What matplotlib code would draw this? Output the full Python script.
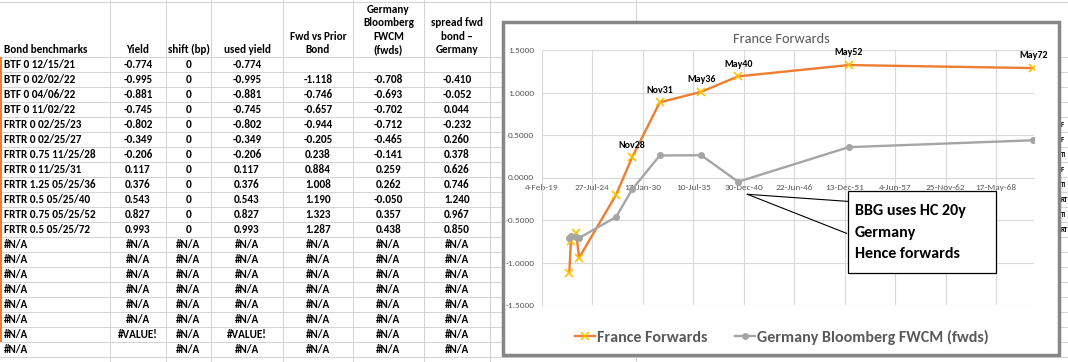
import matplotlib
matplotlib.use("Agg")
import matplotlib.pyplot as plt
import matplotlib.dates as mdates
from matplotlib.patches import Rectangle
from datetime import datetime, timedelta

plt.rcParams['font.family'] = ['Carlito', 'Lato', 'DejaVu Sans']

# ---------------- data ----------------
bonds = ["BTF 0 12/15/21", "BTF 0 02/02/22", "BTF 0 04/06/22", "BTF 0 11/02/22",
         "FRTR 0 02/25/23", "FRTR 0 02/25/27", "FRTR 0.75 11/25/28", "FRTR 0 11/25/31",
         "FRTR 1.25 05/25/36", "FRTR 0.5 05/25/40", "FRTR 0.75 05/25/52", "FRTR 0.5 05/25/72"]
maturities = ["2021-12-15", "2022-02-02", "2022-04-06", "2022-11-02", "2023-02-25",
              "2027-02-25", "2028-11-25", "2031-11-25", "2036-05-25", "2040-05-25",
              "2052-05-25", "2072-05-25"]
yields = [-0.774, -0.995, -0.881, -0.745, -0.802, -0.349, -0.206, 0.117, 0.376, 0.543, 0.827, 0.993]
shift_bp = [0, 0, 0, 0, 0, 0, 0, 0, 0, 0, 0, 0]
used_yield = [-0.774, -0.995, -0.881, -0.745, -0.802, -0.349, -0.206, 0.117, 0.376, 0.543, 0.827, 0.993]
fwd_vs_prior = [None, -1.118, -0.746, -0.657, -0.944, -0.205, 0.238, 0.884, 1.008, 1.190, 1.323, 1.287]
germany_fwcm = [None, -0.708, -0.693, -0.702, -0.712, -0.465, -0.141, 0.259, 0.262, -0.050, 0.357, 0.438]
spread_fwd = [None, -0.410, -0.052, 0.044, -0.232, 0.260, 0.378, 0.626, 0.746, 1.240, 0.967, 0.850]
point_labels = ["", "", "", "", "", "", "Nov28", "Nov31", "May36", "May40", "May52", "May72"]

headers = ["Bond benchmarks", "Yield", "shift (bp)", "used yield", "Fwd vs Prior\nBond",
           "Germany\nBloomberg\nFWCM\n(fwds)", "spread fwd\nbond \u2013\nGermany"]
error_rows = [
    ["#N/A", "#N/A", "#N/A", "#N/A", "#N/A", "#N/A", "#N/A"],
    ["#N/A", "#N/A", "#N/A", "#N/A", "#N/A", "#N/A", "#N/A"],
    ["#N/A", "#N/A", "#N/A", "#N/A", "#N/A", "#N/A", "#N/A"],
    ["#N/A", "#N/A", "#N/A", "#N/A", "#N/A", "#N/A", "#N/A"],
    ["#N/A", "#N/A", "#N/A", "#N/A", "#N/A", "#N/A", "#N/A"],
    ["#N/A", "#N/A", "#N/A", "#N/A", "#N/A", "#N/A", "#N/A"],
    ["#N/A", "#VALUE!", "#N/A", "#VALUE!", "#N/A", "#N/A", "#N/A"],
    ["#N/A", "", "#N/A", "#N/A", "#N/A", "#N/A", "#N/A"],
]
right_fragments = ["F", "F", "TI", "F", "TI", "RT", "TI", "RT"]

series_names = ["France Forwards", "Germany Bloomberg FWCM (fwds)"]
chart_title = "France Forwards"
callout_lines = ["BBG uses HC 20y", "Germany", "Hence forwards"]

x_min_serial, x_max_serial, x_step = 43500, 63000, 2000
y_ticks = [-1.5, -1.0, -0.5, 0.0, 0.5, 1.0, 1.5]

# ---------------- figure ----------------
W, H = 1068, 362
fig = plt.figure(figsize=(W / 100, H / 100), dpi=100)
bg = fig.add_axes([0, 0, 1, 1], zorder=0)
bg.set_xlim(0, W)
bg.set_ylim(H, 0)
bg.axis('off')

GRID = '#D4D4D4'
TXT = dict(fontsize=8.0, fontweight='bold', color='black')
col_edges = [0, 110, 166, 211, 283, 353, 424, 490]
row_top, row_h = 57, 15

for x in col_edges[1:] + [635.7]:
    bg.plot([x, x], [0, H], color=GRID, lw=0.75, zorder=1)
for y in [1.5] + [row_top + row_h * i for i in range(21)]:
    bg.plot([0, W], [y, y], color=GRID, lw=0.75, zorder=1)

# orange range highlight on the left
bg.add_patch(Rectangle((0, 57), 2.2, 285, color='#ED7D31', lw=0, zorder=2))

def cell_x(c):
    if c == 0:
        return 4, 'left'
    return (col_edges[c] + col_edges[c + 1]) / 2, 'center'

# headers
for c, h in enumerate(headers):
    x, ha = cell_x(c)
    lines = h.split("\n")
    for k, line in enumerate(reversed(lines)):
        bg.text(x, 49.3 - 13.2 * k, line, ha=ha, va='center', zorder=3, **TXT)

def fmt(v, dec=3):
    if v is None:
        return ""
    return f"{v:.{dec}f}"

rows = []
for i in range(len(bonds)):
    rows.append([bonds[i], fmt(yields[i]), f"{shift_bp[i]:d}", fmt(used_yield[i]),
                 fmt(fwd_vs_prior[i]), fmt(germany_fwcm[i]), fmt(spread_fwd[i])])
rows += error_rows

for r, row in enumerate(rows):
    yc = row_top + row_h * r + 7.6
    for c, val in enumerate(row):
        x, ha = cell_x(c)
        bg.text(x, yc, val, ha=ha, va='center', zorder=3, **TXT)

# fragments on right edge (cell text partly covered by the chart)
for k, frag in enumerate(right_fragments):
    bg.text(1060.8, row_top + row_h * (4 + k) + 7.6, frag, ha='left', va='center',
            zorder=3, fontsize=5.0, fontweight='bold', color='black')

# chart frame
fx0, fy0, fx1, fy1 = 503.3, 21.7, 1059.3, 355
bg.add_patch(Rectangle((fx0, fy0), fx1 - fx0, fy1 - fy0, facecolor='white',
                       edgecolor='#868686', lw=2.5, zorder=5))
bg.text((fx0 + fx1) / 2, 39, chart_title, ha='center', va='center', fontsize=10.3,
        color='#595959', zorder=6)

# ---------------- chart ----------------
def xl(serial):
    return mdates.date2num(datetime(1899, 12, 30) + timedelta(days=serial))

px_l, px_r, px_t, px_b = 541.7, 1034, 50, 305
ax = fig.add_axes([px_l / W, 1 - px_b / H, (px_r - px_l) / W, (px_b - px_t) / H], zorder=2)
ax.set_facecolor('none')

dates = [mdates.date2num(datetime.strptime(d, "%Y-%m-%d")) for d in maturities]
fr_x = [d for d, v in zip(dates, fwd_vs_prior) if v is not None]
fr_y = [v for v in fwd_vs_prior if v is not None]
de_x = [d for d, v in zip(dates, germany_fwcm) if v is not None]
de_y = [v for v in germany_fwcm if v is not None]

l1, = ax.plot(fr_x, fr_y, color='#ED7D31', lw=1.7, marker='x', ms=5.5,
              mec='#FFC000', mew=1.2, zorder=3, solid_joinstyle='round')
l2, = ax.plot(de_x, de_y, color='#A5A5A5', lw=1.7, marker='o', ms=4,
              mec='#A5A5A5', mfc='#A5A5A5', zorder=4, solid_joinstyle='round')

for d, v, lab in zip(dates, fwd_vs_prior, point_labels):
    if lab:
        ax.annotate(lab, (d, v), xytext=(0, 8.8), textcoords='offset points',
                    ha='center', va='center', fontsize=7.2, fontweight='bold',
                    color='black', zorder=6)

ax.set_xlim(xl(x_min_serial), xl(x_max_serial))
ax.set_ylim(-1.5, 1.5)
xt = list(range(x_min_serial, x_max_serial, x_step))
ax.set_xticks([xl(s) for s in xt])
xlabels = []
for s in xt:
    d = datetime(1899, 12, 30) + timedelta(days=s)
    xlabels.append(f"{d.day}-{d:%b}-{d:%y}")
ax.set_xticklabels(xlabels)
ax.set_yticks(y_ticks)
ax.set_yticklabels([f"{v:.4f}" for v in y_ticks])
ax.set_axisbelow(True)
ax.grid(True, color='#D9D9D9', lw=0.8)
for s in ['top', 'right']:
    ax.spines[s].set_visible(False)
ax.spines['left'].set_color('#D9D9D9')
ax.spines['left'].set_linewidth(0.8)
ax.spines['bottom'].set_position(('data', 0))
ax.spines['bottom'].set_color('#D9D9D9')
ax.spines['bottom'].set_linewidth(0.8)
ax.tick_params(axis='both', length=0, labelsize=6.7, labelcolor='#595959')
ax.tick_params(axis='y', pad=5.3)
ax.tick_params(axis='x', pad=4.5)

ax.legend([l1, l2], series_names, loc='center', bbox_to_anchor=(782 / W, 1 - 337 / H),
          bbox_transform=fig.transFigure, ncol=2, frameon=False,
          prop=dict(weight='bold', size=11.5), labelcolor='#595959',
          handlelength=1.25, handletextpad=0.15, columnspacing=1.7)

# ---------------- callout ----------------
top = fig.add_axes([0, 0, 1, 1], zorder=3)
top.set_xlim(0, W)
top.set_ylim(H, 0)
top.axis('off')
top.patch.set_visible(False)
bx0, by0, bx1, by1 = 848, 191, 996, 273
tip = (747.4, 194.3)
top.plot([tip[0], bx0], [tip[1], 201.4], color='black', lw=0.8)
top.plot([tip[0], bx0 - 1.5], [tip[1], 233.3], color='black', lw=0.8)
top.add_patch(Rectangle((bx0, by0), bx1 - bx0, by1 - by0, facecolor='white',
                        edgecolor='black', lw=0.9, zorder=4))
for k, line in enumerate(callout_lines):
    top.text(855, 211.5 + 21.5 * k, line, ha='left', va='center', fontsize=11.5,
             fontweight='bold', color='black', zorder=5)

fig.savefig("out.png", dpi=100)
